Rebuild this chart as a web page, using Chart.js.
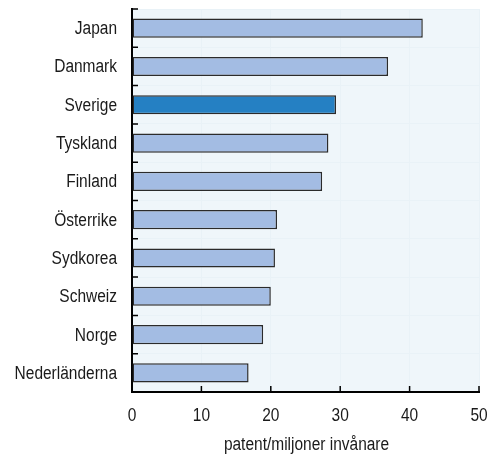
<!DOCTYPE html>
<html>
<head>
<meta charset="utf-8">
<script src="https://cdn.jsdelivr.net/npm/chart.js@4"></script>
<style>
    html, body { margin: 0; padding: 0; background: #fff; }
    #wrap { width: 492px; height: 456px; }
</style>
</head>
<body>
<div id="wrap"><canvas id="patent-chart"></canvas></div>
<script>
const categories = ['Japan', 'Danmark', 'Sverige', 'Tyskland', 'Finland', 'Österrike', 'Sydkorea', 'Schweiz', 'Norge', 'Nederländerna'];
const patents = [41.9, 36.9, 29.4, 28.3, 27.4, 20.9, 20.6, 20.0, 18.9, 16.8];
const xTicks = [0, 10, 20, 30, 40, 50];
const xTitle = 'patent/miljoner invånare';
const highlighted = 'Sverige';

const barColors = categories.map(c => c === highlighted ? '#2580c3' : '#a3bce3');

// fill the plot area with the pale blue background
const plotBackground = {
    id: 'plotBackground',
    beforeDraw: function(chart){
        const {ctx, chartArea} = chart;
        ctx.save();
        ctx.fillStyle = '#eff6fa';
        ctx.fillRect(chartArea.left, chartArea.top, chartArea.right - chartArea.left, chartArea.bottom - chartArea.top);
        ctx.restore();
    }
};

// short ticks pointing into the plot
const innerTicks = {
    id: 'innerTicks',
    afterDraw: function(chart){
        const {ctx, chartArea, scales} = chart;
        ctx.save();
        ctx.strokeStyle = '#000';
        ctx.lineWidth = 1.5;
        ctx.beginPath();
        scales.x.ticks.forEach((t, i) => {
            const px = scales.x.getPixelForTick(i);
            ctx.moveTo(px, chartArea.bottom);
            ctx.lineTo(px, chartArea.bottom - 6);
        });
        for (let i = 0; i < categories.length; i++) {
            const py = scales.y.getPixelForValue(i - 0.5);
            ctx.moveTo(chartArea.left, py);
            ctx.lineTo(chartArea.left + 6, py);
        }
        ctx.stroke();
        ctx.restore();
    }
};

// the original uses a narrow Arial; squeeze Liberation Sans to match
function narrowText(ctx, text, x, y, align){
    ctx.save();
    ctx.translate(x, y);
    ctx.scale(0.86, 1);
    ctx.textAlign = align;
    ctx.textBaseline = 'alphabetic';
    ctx.fillText(text, 0, 0);
    ctx.restore();
}

const narrowLabels = {
    id: 'narrowLabels',
    afterDraw: function(chart){
        const {ctx, chartArea, scales} = chart;
        ctx.save();
        ctx.fillStyle = '#1a1a1a';
        ctx.font = '18px "Liberation Sans", Arial, sans-serif';
        categories.forEach((c, i) => {
            narrowText(ctx, c, chartArea.left - 15, scales.y.getPixelForValue(i) + 6, 'right');
        });
        scales.x.ticks.forEach((t, i) => {
            narrowText(ctx, String(t.value), scales.x.getPixelForTick(i), chartArea.bottom + 29, 'center');
        });
        narrowText(ctx, xTitle, (chartArea.left + chartArea.right) / 2 + 1, chartArea.bottom + 58, 'center');
        ctx.restore();
    }
};

const ctx = document.querySelector('#patent-chart').getContext('2d');
new Chart(ctx, {
    type: 'bar',
    data: {
        labels: categories,
        datasets: [
            {
                data: patents,
                backgroundColor: barColors,
                borderColor: '#2b2b2b',
                borderWidth: 1.5,
                borderSkipped: false,
                categoryPercentage: 1,
                barPercentage: 0.5
            }
        ]
    },
    options: {
        indexAxis: 'y',
        responsive: true,
        maintainAspectRatio: false,
        animation: false,
        layout: {
            padding: { left: 0, right: 13, top: 9, bottom: 0 }
        },
        plugins: {
            legend: { display: false },
            tooltip: { enabled: false }
        },
        scales: {
            x: {
                min: xTicks[0],
                max: xTicks[xTicks.length - 1],
                afterBuildTicks: function(scale){
                    scale.ticks = xTicks.map(v => ({ value: v }));
                },
                afterFit: function(scale){
                    scale.height = 64;
                    scale.paddingLeft = 0;
                    scale.paddingRight = 0;
                    scale.paddingTop = 0;
                    scale.paddingBottom = 0;
                },
                border: { color: '#000', width: 2 },
                grid: { color: '#e9f2f7', drawTicks: false },
                ticks: { display: false }
            },
            y: {
                afterFit: function(scale){
                    scale.width = 132;
                    scale.paddingLeft = 0;
                    scale.paddingRight = 0;
                    scale.paddingTop = 0;
                    scale.paddingBottom = 0;
                },
                border: { color: '#000', width: 2 },
                grid: { color: '#e9f2f7', drawTicks: false, offset: true },
                ticks: { display: false }
            }
        }
    },
    plugins: [plotBackground, innerTicks, narrowLabels]
});
</script>
</body>
</html>
